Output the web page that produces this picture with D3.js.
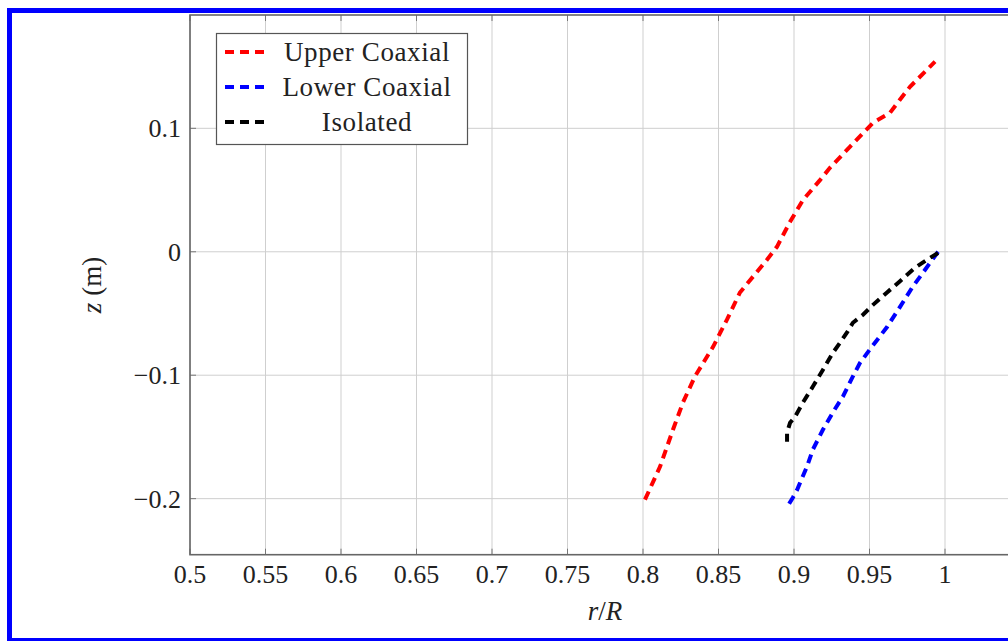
<!DOCTYPE html>
<html><head><meta charset="utf-8">
<script src="https://cdn.jsdelivr.net/npm/d3@7"></script>
<style>body{margin:0;background:#fff;}svg{display:block;}</style>
</head><body>
<svg id="c" width="1008" height="641"></svg>
<script>
const xTicks = [0.5,0.55,0.6,0.65,0.7,0.75,0.8,0.85,0.9,0.95,1];
const yTicks = [-0.2,-0.1,0,0.1];
const seriesNames = ["Upper Coaxial","Lower Coaxial","Isolated"];
const seriesColors = ["#ff0000","#0000ff","#000000"];
const upperX = [0.8013,0.8113,0.8199,0.8265,0.8344,0.8464,0.8556,0.8642,0.8821,0.8887,0.8974,0.906,0.9172,0.9238,0.937,0.9523,0.9636,0.970,0.9768,0.9934];
const upperY = [-0.2008,-0.174,-0.144,-0.122,-0.101,-0.077,-0.055,-0.033,-0.0065,0.004,0.0243,0.042,0.058,0.068,0.085,0.1045,0.1126,0.123,0.1336,0.154];
const lowerX = [0.9954,0.9868,0.9788,0.970,0.9616,0.9503,0.9437,0.939,0.9325,0.9258,0.9192,0.9126,0.9086,0.902,0.8993,0.8954];
const lowerY = [0.0,-0.0146,-0.028,-0.045,-0.061,-0.079,-0.090,-0.101,-0.117,-0.130,-0.144,-0.160,-0.174,-0.193,-0.199,-0.207];
const isoX = [0.9954,0.990,0.980,0.970,0.9616,0.9523,0.9457,0.939,0.935,0.9305,0.9258,0.9192,0.9126,0.906,0.9007,0.8974,0.8954,0.8954];
const isoY = [-0.001,-0.005,-0.013,-0.024,-0.033,-0.043,-0.051,-0.0575,-0.0656,-0.0737,-0.0818,-0.0955,-0.109,-0.122,-0.1336,-0.1385,-0.1466,-0.1538];

const series = [
  {name: seriesNames[0], color: seriesColors[0], pts: upperX.map((x,i)=>[x,upperY[i]])},
  {name: seriesNames[1], color: seriesColors[1], pts: lowerX.map((x,i)=>[x,lowerY[i]])},
  {name: seriesNames[2], color: seriesColors[2], pts: isoX.map((x,i)=>[x,isoY[i]])}
];

const svg = d3.select("#c");
const L = 190, R = 1020.5, T = 15, B = 554.7;
const x = d3.scaleLinear().domain([0.5,1.05]).range([L,R]);
const y = d3.scaleLinear().domain([-0.2454,0.1918]).range([B,T]);
const font = "'Liberation Serif', 'DejaVu Serif', serif";
const fmt = v => (v<0?"\u2212":"") + String(Math.abs(+v.toFixed(2)));

// grid
const g = svg.append("g");
g.selectAll(".gx").data(xTicks.concat([1.05])).enter().append("line")
  .attr("x1",d=>x(d)).attr("x2",d=>x(d)).attr("y1",T).attr("y2",B)
  .attr("stroke","#cfcfcf").attr("stroke-width",1);
g.selectAll(".gy").data(yTicks).enter().append("line")
  .attr("x1",L).attr("x2",R).attr("y1",d=>y(d)).attr("y2",d=>y(d))
  .attr("stroke","#cfcfcf").attr("stroke-width",1);

// tick marks (inward)
g.selectAll(".tb").data(xTicks).enter().append("line")
  .attr("x1",d=>x(d)).attr("x2",d=>x(d)).attr("y1",B).attr("y2",B-6)
  .attr("stroke","#777").attr("stroke-width",1);
g.selectAll(".tt").data(xTicks).enter().append("line")
  .attr("x1",d=>x(d)).attr("x2",d=>x(d)).attr("y1",T).attr("y2",T+6)
  .attr("stroke","#777").attr("stroke-width",1);
g.selectAll(".tl").data(yTicks).enter().append("line")
  .attr("x1",L).attr("x2",L+6).attr("y1",d=>y(d)).attr("y2",d=>y(d))
  .attr("stroke","#777").attr("stroke-width",1);
g.selectAll(".tr").data(yTicks).enter().append("line")
  .attr("x1",R).attr("x2",R-6).attr("y1",d=>y(d)).attr("y2",d=>y(d))
  .attr("stroke","#777").attr("stroke-width",1);

// axis frame
svg.append("rect").attr("x",L).attr("y",T).attr("width",R-L).attr("height",B-T)
  .attr("fill","none").attr("stroke","#666").attr("stroke-width",1.6);

// tick labels
svg.selectAll(".xl").data(xTicks).enter().append("text")
  .attr("x",d=>x(d)).attr("y",583).attr("text-anchor","middle")
  .attr("font-family",font).attr("font-size",26).attr("fill","#222").text(fmt);
svg.selectAll(".yl").data(yTicks).enter().append("text")
  .attr("x",181).attr("y",d=>y(d)+9).attr("text-anchor","end")
  .attr("font-family",font).attr("font-size",26).attr("fill","#222").text(fmt);

// axis labels
const xl = svg.append("text").attr("x",605).attr("y",620).attr("text-anchor","middle")
  .attr("font-family",font).attr("font-size",27).attr("fill","#222");
xl.append("tspan").attr("font-style","italic").text("r");
xl.append("tspan").text("/");
xl.append("tspan").attr("font-style","italic").text("R");

const yl = svg.append("text").attr("transform","translate(101,285) rotate(-90)")
  .attr("text-anchor","middle").attr("font-family",font).attr("font-size",27).attr("fill","#222");
yl.append("tspan").attr("font-style","italic").text("z");
yl.append("tspan").text(" (m)");

// series
const line = d3.line().x(d=>x(d[0])).y(d=>y(d[1]));
const clip = svg.append("clipPath").attr("id","cp").append("rect")
  .attr("x",L).attr("y",T).attr("width",R-L).attr("height",B-T);
svg.selectAll(".s").data(series).enter().append("path")
  .attr("d",d=>line(d.pts)).attr("fill","none").attr("stroke",d=>d.color)
  .attr("stroke-width",4).attr("stroke-dasharray","9,6").attr("clip-path","url(#cp)");

// legend
const lg = svg.append("g");
lg.append("rect").attr("x",216.5).attr("y",33.5).attr("width",251).attr("height",111)
  .attr("fill","#fff").attr("stroke","#555").attr("stroke-width",1.2);
const ly = [52,87,122];
series.forEach((s,i)=>{
  lg.append("line").attr("x1",225).attr("x2",269).attr("y1",ly[i]).attr("y2",ly[i])
    .attr("stroke",s.color).attr("stroke-width",4).attr("stroke-dasharray","9,6");
  lg.append("text").attr("x",367).attr("y",ly[i]+9).attr("text-anchor","middle")
    .attr("font-family",font).attr("font-size",27).attr("fill","#222")
    .attr("letter-spacing",0.6).text(s.name);
});

// outer blue frame
svg.append("rect").attr("x",9.5).attr("y",10.5).attr("width",1100).attr("height",630)
  .attr("fill","none").attr("stroke","#0000ff").attr("stroke-width",5);
</script>
</body></html>
